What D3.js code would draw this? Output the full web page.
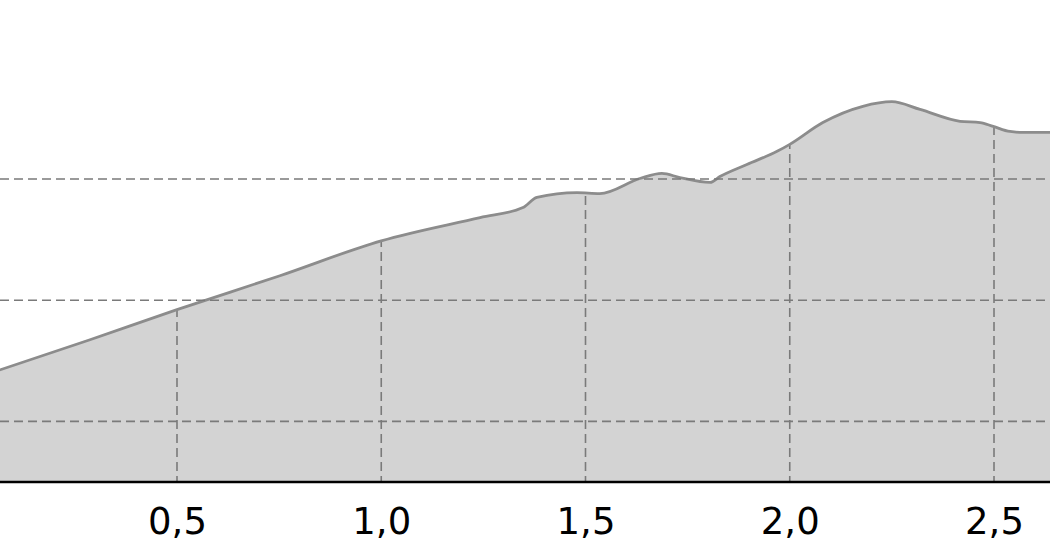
<!DOCTYPE html>
<html>
<head>
<meta charset="utf-8">
<script src="https://cdn.jsdelivr.net/npm/d3@7"></script>
<style>
  body { margin: 0; background: #fff; }
  svg { display: block; }
</style>
</head>
<body>
<svg id="chart"></svg>
<script>
// Elevation profile (distance in km, elevation in m)
const distance = [0, 0.287, 0.5, 0.752, 1.0, 1.242, 1.347, 1.381, 1.479, 1.535,
  1.633, 1.687, 1.731, 1.805, 1.829, 1.895, 1.969, 2.0, 2.081, 2.179,
  2.25, 2.319, 2.417, 2.466, 2.498, 2.539, 2.571, 2.637, 2.7];
const elevation = [217.5, 233.7, 246.1, 260.1, 274.5, 284.1, 288.2, 292.4, 294.4, 294.0,
  300.2, 302.3, 300.6, 298.6, 301.0, 306.0, 311.4, 314.3, 323.3, 330.0,
  331.9, 328.7, 323.8, 323.3, 321.7, 319.6, 319.2, 319.2, 319.2];
const xTicks = [0.5, 1.0, 1.5, 2.0, 2.5];
const yGrid = [200, 250, 300];

const data = distance.map((d, i) => ({ x: d, y: elevation[i] }));

const width = 1050;
const height = 560;
const svg = d3.select("#chart").attr("width", width).attr("height", height);

// the visible window is a crop of the full profile
const baseline = 482;
const x = d3.scaleLinear().domain([0.5, 2.5]).range([177, 994]);
const y = d3.scaleLinear().domain([175, 300]).range([baseline, 179]);

const locale = d3.formatLocale({ decimal: ",", thousands: ".", grouping: [3], currency: ["", " €"] });
const fmt = locale.format(".1f");

const area = d3.area()
  .curve(d3.curveMonotoneX)
  .x(d => x(d.x))
  .y0(baseline)
  .y1(d => y(d.y));

const line = d3.line()
  .curve(d3.curveMonotoneX)
  .x(d => x(d.x))
  .y(d => y(d.y));

svg.append("defs")
  .append("clipPath")
  .attr("id", "under-curve")
  .append("path")
  .attr("d", area(data));

svg.append("path")
  .attr("d", area(data))
  .attr("fill", "#d3d3d3");

// vertical grid only below the profile
svg.append("g")
  .attr("clip-path", "url(#under-curve)")
  .selectAll("line")
  .data(xTicks)
  .join("line")
  .attr("x1", d => x(d))
  .attr("x2", d => x(d))
  .attr("y1", 0)
  .attr("y2", baseline)
  .attr("stroke", "#7a7a7a")
  .attr("stroke-width", 1.6)
  .attr("stroke-dasharray", "9,5");

svg.append("path")
  .attr("d", line(data))
  .attr("fill", "none")
  .attr("stroke", "#8c8c8c")
  .attr("stroke-width", 2.8)
  .attr("stroke-linejoin", "round");

// horizontal grid across the whole width
svg.append("g")
  .selectAll("line")
  .data(yGrid)
  .join("line")
  .attr("x1", 0)
  .attr("x2", width)
  .attr("y1", d => y(d))
  .attr("y2", d => y(d))
  .attr("stroke", "#7a7a7a")
  .attr("stroke-width", 1.6)
  .attr("stroke-dasharray", "9,5");

const xAxis = d3.axisBottom(x)
  .tickValues(xTicks)
  .tickFormat(fmt)
  .tickSize(0)
  .tickPadding(26);

const gx = svg.append("g")
  .attr("transform", `translate(0,${baseline})`)
  .call(xAxis);

gx.select(".domain").remove();
gx.append("line")
  .attr("x1", 0)
  .attr("x2", width)
  .attr("stroke", "#000")
  .attr("stroke-width", 2.5);

gx.selectAll("text")
  .attr("fill", "#000")
  .attr("font-family", "DejaVu Sans")
  .attr("font-size", 37);
</script>
</body>
</html>
